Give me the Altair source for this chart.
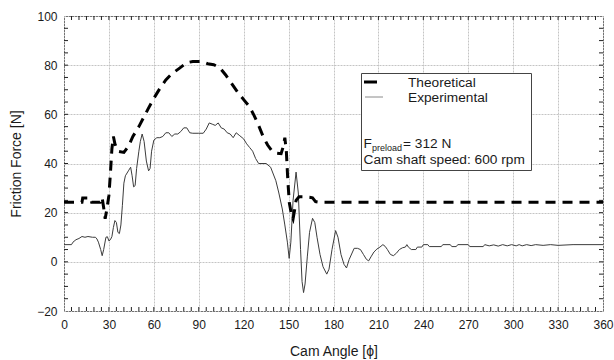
import altair as alt
import pandas as pd

# ---- data ----
theo_angle = [0, 12, 12.5, 18, 18.5, 24, 24.5, 25.5, 26.5, 27.5, 28.5, 30, 31, 32, 33, 34, 36, 40,
              43, 46, 50, 53, 56, 60, 64, 68, 72, 77, 82, 86, 92, 96, 100, 104, 108, 112, 116,
              120, 124, 127, 130, 133, 136, 139, 142, 145, 146.5, 147.5, 148.5, 149.5, 150.5,
              152, 153, 154, 155, 157, 160, 164, 166, 168, 171, 360]
theo_force = [24.2, 24.2, 26, 26, 24.2, 24.2, 26, 26, 22, 17.5, 21, 27, 36, 46, 51, 48, 45, 44.5,
              47, 51, 55, 58.5, 62, 66.5, 70.5, 74, 76.5, 78.7, 81, 81.5, 81.5, 80.6, 80.2, 79,
              76, 72.5, 69, 66, 63, 59.5, 55.5, 51, 47.5, 45, 44.2, 44, 47, 50.5, 45, 33, 24,
              19, 17.5, 21, 25, 26.5, 26.5, 26.3, 26, 24.5, 24.2, 24.2]

exp_angle = [0, 5, 6, 8, 10, 12, 14, 16, 19, 21,
             22, 23, 24.5, 25.5, 26.5, 28, 29, 30, 31, 32,
             33, 34, 35, 36, 37, 38, 39, 40, 41, 43,
             44.5, 45.5, 46.5, 47.5, 48.5, 50, 51, 52.2, 53.5, 55,
             56.5, 57.5, 58.5, 60, 62, 64, 66, 68, 70, 72,
             74, 76, 78, 80, 82, 84, 86, 90, 93, 95,
             97, 99, 101, 103, 105, 107, 109, 111, 113, 115,
             117, 120, 122, 124, 126, 128, 130, 135, 138, 141.5,
             143.5, 145.8, 147.5, 149.2, 150.4, 151.5, 153, 155, 156.5, 158,
             159, 160, 161, 162.5, 164, 166, 167.5, 169, 171, 173,
             175.5, 177, 179, 181.4, 183, 185, 187, 188.7, 190.5, 193.8,
             196, 198, 200, 202, 203.5, 205, 207, 209, 211, 213,
             214.5, 216, 218, 220, 222, 224, 226, 228, 229, 230,
             232, 235, 236, 239, 240, 243, 244, 252, 253, 258,
             259, 262, 263, 270, 271, 280, 281, 284, 287, 290,
             293, 296, 299, 302, 304, 306, 309, 312, 315, 320,
             325, 330, 340, 360]
exp_force = [7, 7, 8, 9, 9.5, 10.3, 10, 10.3, 10, 10,
             9.3, 8, 5, 2.5, 5, 10, 10.2, 8.5, 9, 10.3,
             14, 16.8, 16, 12, 11.5, 15, 23, 32, 35, 37,
             38.5, 35, 30.5, 31, 38, 45, 49, 52, 49, 41,
             37, 38, 45, 49.5, 50.5, 50.5, 51, 52.5, 52.5, 51,
             52, 52, 53, 54.5, 54.5, 52.5, 52.3, 52.3, 52.3, 54,
             56.5, 56, 55.5, 56.5, 54.5, 54, 52.5, 52, 50.5, 52.5,
             51.5, 50, 48, 46.5, 45, 42, 40, 40, 38.5, 33,
             28, 21.5, 15, 8, 1.4, 8, 25, 36.5, 28, 5,
             -8, -12.5, -9, 2, 12, 17.7, 16, 10, 3, -2,
             -5, -3, 5, 12.7, 10, 3, -1, -2.5, 1, 5.5,
             5.5, 5, 3, 1, 0.4, 2, 4, 5.2, 6, 7,
             6.3, 5, 3, 2.5, 3.5, 5, 5.7, 6, 7, 6,
             5, 5, 6, 6, 7, 7, 6.2, 6.2, 7, 7,
             6.2, 6.2, 7, 7, 6.2, 6.2, 7, 6.5, 6.9, 6.4,
             7, 6.5, 7, 6.5, 7, 6.5, 7, 6.6, 7, 6.7,
             7, 6.7, 7, 7]

x_ticks = list(range(0, 361, 30))
y_ticks = list(range(-20, 101, 20))
x_minor = list(range(5, 360, 5))
y_minor = list(range(-15, 100, 5))

series_names = ["Theoretical", "Experimental"]
preload_text = ["F", "preload", "= 312 N"]
speed_text = "Cam shaft speed: 600 rpm"

theo_df = pd.DataFrame({"angle": theo_angle, "force": theo_force})
exp_df = pd.DataFrame({"angle": exp_angle, "force": exp_force})
xminor_df = pd.DataFrame({"angle": x_minor})
yminor_df = pd.DataFrame({"force": y_minor})
one = pd.DataFrame({"k": [0]})

W, H = 539, 295
TK = 4
FONT = "Liberation Sans"
TXT = "#1a1a1a"

xs = alt.Scale(domain=[0, 360], nice=False, zero=False)
ys = alt.Scale(domain=[-20, 100], nice=False, zero=False)

grid_kw = dict(grid=True, gridColor="#c4c4c4", gridDash=[2, 1], gridWidth=1)

ax_x_main = alt.Axis(orient="bottom", values=x_ticks, title="Cam Angle [ϕ]", ticks=False,
                     domain=False, labelFont=FONT, labelFontSize=12, labelColor=TXT,
                     labelPadding=8, labelFlush=False, titleFont=FONT, titleFontSize=14,
                     titleFontWeight="normal", titleColor=TXT, titlePadding=14, **grid_kw)
ax_y_main = alt.Axis(orient="left", values=y_ticks, title="Friction Force [N]", ticks=False,
                     domain=False, labelFont=FONT, labelFontSize=12, labelColor=TXT,
                     labelPadding=7, labelFlush=False, titleFont=FONT, titleFontSize=14,
                     titleFontWeight="normal", titleColor=TXT, titlePadding=13, **grid_kw)

exp_line = alt.Chart(exp_df).mark_line(color="#3c3c3c", strokeWidth=1).encode(
    x=alt.X("angle:Q", scale=xs, axis=None),
    y=alt.Y("force:Q", scale=ys, axis=None),
)
theo_line = alt.Chart(theo_df).mark_line(color="black", strokeWidth=3, strokeDash=[10, 7]).encode(
    x=alt.X("angle:Q", scale=xs, axis=ax_x_main),
    y=alt.Y("force:Q", scale=ys, axis=ax_y_main),
)

# ---- inward minor ticks on all four sides ----
tick_style = dict(color="#222", strokeWidth=1)
t_bottom = alt.Chart(xminor_df).mark_rule(**tick_style).encode(
    x=alt.X("angle:Q", scale=xs, axis=None), y=alt.value(H), y2=alt.value(H - TK))
t_top = alt.Chart(xminor_df).mark_rule(**tick_style).encode(
    x=alt.X("angle:Q", scale=xs, axis=None), y=alt.value(0), y2=alt.value(TK))
t_left = alt.Chart(yminor_df).mark_rule(**tick_style).encode(
    y=alt.Y("force:Q", scale=ys, axis=None), x=alt.value(0), x2=alt.value(TK))
t_right = alt.Chart(yminor_df).mark_rule(**tick_style).encode(
    y=alt.Y("force:Q", scale=ys, axis=None), x=alt.value(W), x2=alt.value(W - TK))

# ---- legend box ----
box = alt.Chart(one).mark_rect(fill="white", stroke="#444", strokeWidth=1).encode(
    x=alt.value(297.5), x2=alt.value(467.5), y=alt.value(57.5), y2=alt.value(154.5))
samp1 = alt.Chart(one).mark_rule(color="black", strokeWidth=3).encode(
    x=alt.value(300), x2=alt.value(313), y=alt.value(66))
samp2 = alt.Chart(one).mark_rule(color="#8a8a8a", strokeWidth=1).encode(
    x=alt.value(301), x2=alt.value(319), y=alt.value(81))

def txt(s, x, y, size=13.7):
    return alt.Chart(one).mark_text(align="left", baseline="alphabetic", font=FONT,
                                    fontSize=size, color=TXT).encode(
        x=alt.value(x), y=alt.value(y), text=alt.value(s))

legend = [box, samp1, samp2,
          txt(series_names[0], 344, 71),
          txt(series_names[1], 344, 86),
          txt(preload_text[0], 299.5, 132),
          txt(preload_text[1], 308, 135, 9),
          txt(preload_text[2], 339, 132),
          txt(speed_text, 299.5, 148)]

chart = alt.layer(t_bottom, t_top, t_left, t_right, exp_line, theo_line, *legend).resolve_axis(
    x="independent", y="independent"
).properties(
    width=W, height=H,
    autosize=alt.AutoSizeParams(type="none"),
    padding={"left": 64, "top": 16, "right": 11, "bottom": 49},
    background="white",
).configure_view(stroke="#222", strokeWidth=1)

chart.save("out.html", embed_options={"renderer": "svg", "actions": False})
